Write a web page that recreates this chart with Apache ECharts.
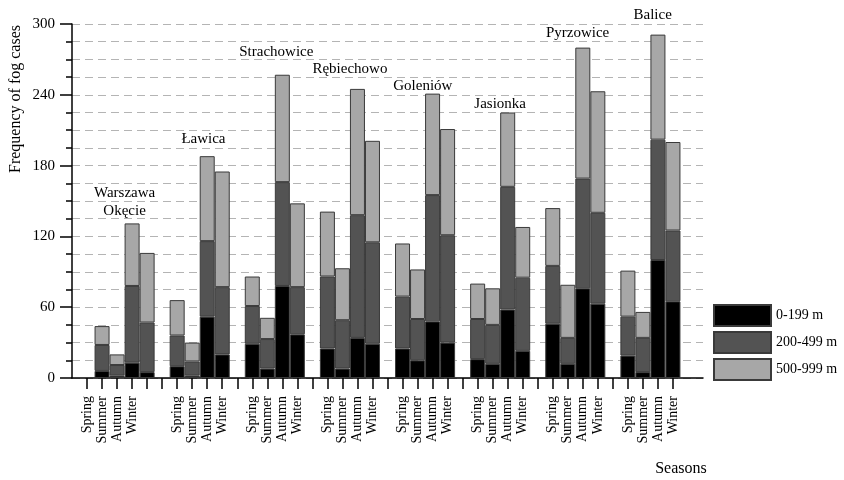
<!DOCTYPE html>
<html><head><meta charset="utf-8">
<script src="https://cdn.jsdelivr.net/npm/echarts@6/dist/echarts.min.js"></script>
<style>html,body{margin:0;padding:0;background:#fff}#c{width:844px;height:480px}</style>
</head><body><div id="c"></div>
<script>
// ---- data ----
const stations = ['Warszawa\nOkęcie', 'Ławica', 'Strachowice', 'Rębiechowo', 'Goleniów', 'Jasionka', 'Pyrzowice', 'Balice'];
const seasons = ['Spring', 'Summer', 'Autumn', 'Winter'];
const rangeNames = ['0-199 m', '200-499 m', '500-999 m'];
// values per station, seasons in order Spring, Summer, Autumn, Winter
const fog0_199 = [
  6, 2, 13, 5,
  10, 2, 52, 20,
  29, 8, 78, 37,
  25, 8, 34, 29,
  25, 15, 48, 30,
  16, 12, 58, 23,
  46, 12, 76, 63,
  19, 5, 100, 65
];
const fog200_499 = [
  22, 9, 65, 42,
  26, 12, 64, 57,
  32, 25, 88, 40,
  61, 41, 104, 86,
  44, 35, 107, 91,
  34, 33, 104, 62,
  49, 22, 93, 77,
  33, 29, 102, 60
];
const fog500_999 = [
  16, 9, 53, 59,
  30, 16, 72, 98,
  25, 18, 91, 71,
  55, 44, 107, 86,
  45, 42, 86, 90,
  30, 31, 63, 43,
  49, 45, 111, 103,
  39, 22, 89, 75
];
const yTickLabels = [0, 60, 120, 180, 240, 300];
// slot of the first season tick label for each station (the first group's labels sit one slot left, as in the source)
const labelSlotStart = [1, 7, 12, 17, 22, 27, 32, 37];
// station caption heights (in data units)
const stationLabelValue = [149.5, 202.6, 276, 262, 247, 232, 292.6, 307.6];

// ---- build ----
const SLOTS = 43;
const slotIdx = (g, s) => 2 + 5 * g + s;
const slotNames = Array.from({length: SLOTS}, (_, i) => 's' + i);
const slotLabels = new Array(SLOTS).fill('');
labelSlotStart.forEach((st, g) => seasons.forEach((s, k) => { slotLabels[st + k] = s; }));

function slotData(vals) {
  const arr = new Array(SLOTS).fill(null);
  stations.forEach((_, g) => seasons.forEach((_, s) => { arr[slotIdx(g, s)] = vals[g * 4 + s]; }));
  return arr;
}
const FONT = '"Liberation Serif", "Times New Roman", serif';
const fills = ['#000000', '#535353', '#a7a7a7'];
const seriesVals = [fog0_199, fog200_499, fog500_999];

const chart = echarts.init(document.getElementById('c'), null, {renderer: 'canvas'});
const option = {
  animation: false,
  backgroundColor: '#fff',
  textStyle: {fontFamily: FONT, color: '#000'},
  grid: {left: 72, right: 141, top: 24, bottom: 102, containLabel: false},
  legend: {
    orient: 'vertical', left: 713, top: 304, itemWidth: 57, itemHeight: 21, itemGap: 4,
    padding: 0, icon: 'rect',
    textStyle: {fontFamily: FONT, fontSize: 14, color: '#000'},
    data: rangeNames
  },
  xAxis: {
    type: 'category', data: slotNames, boundaryGap: false,
    axisLine: {lineStyle: {color: '#000', width: 1.5}},
    axisTick: {show: true, length: 11, interval: (i) => i >= 1 && i <= 40, lineStyle: {color: '#000', width: 1.5}},
    axisLabel: {interval: 0, rotate: 90, margin: 18, fontSize: 14, fontFamily: FONT, color: '#000',
      formatter: (v, i) => slotLabels[i]},
    splitLine: {show: false}
  },
  yAxis: {
    type: 'value', min: 0, max: 300, interval: 60,
    axisLine: {show: true, lineStyle: {color: '#000', width: 1.5}},
    axisTick: {show: true, length: 12, lineStyle: {color: '#000', width: 1.5}},
    minorTick: {show: true, splitNumber: 4, length: 6, lineStyle: {color: '#000', width: 1.5}},
    axisLabel: {margin: 17, fontSize: 15, fontFamily: FONT, color: '#000',
      formatter: (v) => yTickLabels.includes(v) ? String(v) : ''},
    splitLine: {show: true, lineStyle: {color: '#b4b4b4', type: [8, 5], width: 1}},
    minorSplitLine: {show: true, lineStyle: {color: '#b4b4b4', type: [8, 5], width: 1}}
  },
  series: rangeNames.map((n, k) => ({
    name: n, type: 'bar', stack: 'fog', barWidth: 15,
    data: slotData(seriesVals[k]),
    itemStyle: {color: fills[k], borderColor: '#3a3a3a', borderWidth: 1}
  })),
  graphic: []
};
chart.setOption(option);

const labelShift = [0, 0.25, 0.1, 0, -0.15, 0, 0.15, 0.15];
const texts = stations.map((name, g) => {
  const x = 3.5 + 5 * g + labelShift[g];
  const f = Math.floor(x);
  const p0 = chart.convertToPixel({gridIndex: 0}, [f, stationLabelValue[g]]);
  const p1 = chart.convertToPixel({gridIndex: 0}, [f + 1, stationLabelValue[g]]);
  const px = p0[0] + (p1[0] - p0[0]) * (x - f);
  return {type: 'text', x: px, y: p0[1], style: {text: name, fontFamily: FONT, fontSize: 15, fill: '#000',
    textAlign: 'center', textVerticalAlign: 'middle', lineHeight: 18, align: 'center', verticalAlign: 'middle'}};
});
texts.push({type: 'text', x: 16, y: 99, rotation: Math.PI / 2,
  style: {text: 'Frequency of fog cases', fontFamily: FONT, fontSize: 16, fill: '#000', align: 'center', verticalAlign: 'middle'}});
texts.push({type: 'text', x: 681, y: 469,
  style: {text: 'Seasons', fontFamily: FONT, fontSize: 16, fill: '#000', align: 'center', verticalAlign: 'middle'}});
chart.setOption({graphic: texts});
</script>
</body></html>
